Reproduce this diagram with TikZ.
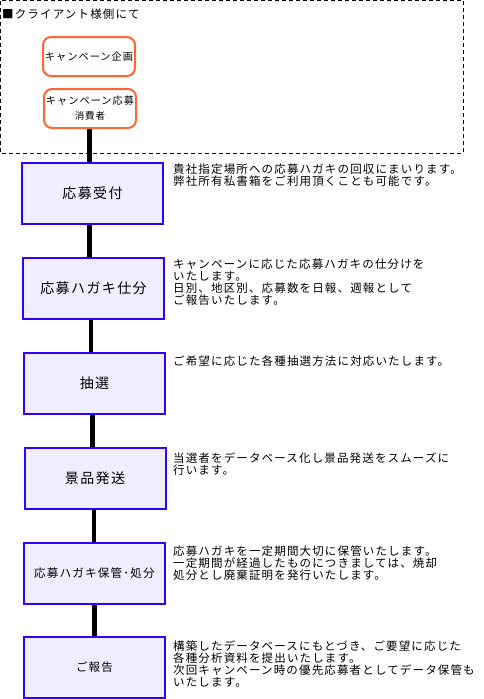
\documentclass[tikz,border=0pt]{standalone}
\usepackage{fontspec}
\setmainfont{Noto Sans CJK JP}
\newfontfamily\jp[LetterSpace=10]{Noto Sans CJK JP}
\usetikzlibrary{calc}
\definecolor{boxblue}{HTML}{3300FF}
\definecolor{boxfill}{HTML}{EEEEFF}
\definecolor{orng}{HTML}{FF6633}
\tikzset{
  stepbox/.style={draw=boxblue, line width=2pt, fill=boxfill, minimum width=141pt, minimum height=61pt, inner sep=0pt, font=\jp\fontsize{14}{16}\selectfont},
  clientbox/.style={draw=orng, line width=2pt, rounded corners=8pt, fill=white, minimum width=92pt, minimum height=39pt, inner sep=0pt, align=center, font=\jp\fontsize{10.2}{15}\selectfont},
  desc/.style={anchor=north west, inner sep=0pt, align=left, font=\jp\fontsize{11.5}{12}\selectfont},
  conn/.style={line width=4.5pt, black},
}
\begin{document}
\begin{tikzpicture}[x=1pt, y=-1pt]
\useasboundingbox (0,0) rectangle (483,699);
\draw[dashed, dash pattern=on 4pt off 3pt, line width=1pt] (0.5,0.5) rectangle (463,153);
\node[anchor=west, inner sep=0pt, font=\jp\fontsize{11.5}{12}\selectfont] (title) at (2,14) {■クライアント様側にて};
\node[clientbox] (o1) at (89,56.5) {キャンペーン企画};
\node[clientbox] (o2) at (90,108.5) {キャンペーン応募\\{\fontsize{9.5}{12}\selectfont 消費者}};
\node[stepbox] (b1) at (92.5,193.5) {応募受付};
\node[stepbox] (b2) at (93.5,288.5) {応募ハガキ仕分};
\node[stepbox] (b3) at (94.5,383.5) {抽選};
\node[stepbox] (b4) at (95,478.5) {景品発送};
\node[stepbox, font=\jp\fontsize{11.6}{14}\selectfont] (b5) at (94.5,573.5) {応募ハガキ保管･処分};
\node[stepbox, font=\jp\fontsize{11.5}{14}\selectfont] (b6) at (94.5,667.5) {ご報告};
\draw[conn] ([xshift=-0.5pt]o2.south) -- ([xshift=-0.5pt]o2.south |- b1.north);
\draw[conn] ([xshift=-3pt]b1.south) -- ([xshift=-3pt]b1.south |- b2.north);
\draw[conn] ([xshift=-2.5pt]b2.south) -- ([xshift=-2.5pt]b2.south |- b3.north);
\draw[conn] ([xshift=-2pt]b3.south) -- ([xshift=-2pt]b3.south |- b4.north);
\draw[conn] ([xshift=-1pt]b4.south) -- ([xshift=-1pt]b4.south |- b5.north);
\draw[conn] ([xshift=0pt]b5.south) -- ([xshift=0pt]b5.south |- b6.north);
\node[desc] (t1) at (173,164) {貴社指定場所への応募ハガキの回収にまいります。\\弊社所有私書箱をご利用頂くことも可能です。};
\node[desc] (t2) at (173,259) {キャンペーンに応じた応募ハガキの仕分けを\\いたします。\\日別、地区別、応募数を日報、週報として\\ご報告いたします。};
\node[desc] (t3) at (173,356) {ご希望に応じた各種抽選方法に対応いたします。};
\node[desc] (t4) at (173,452) {当選者をデータベース化し景品発送をスムーズに\\行います。};
\node[desc] (t5) at (173,546) {応募ハガキを一定期間大切に保管いたします。\\一定期間が経過したものにつきましては、焼却\\処分とし廃棄証明を発行いたします。};
\node[desc] (t6) at (173,640) {構築したデータベースにもとづき、ご要望に応じた\\各種分析資料を提出いたします。\\次回キャンペーン時の優先応募者としてデータ保管も\\いたします。};
\end{tikzpicture}
\end{document}
